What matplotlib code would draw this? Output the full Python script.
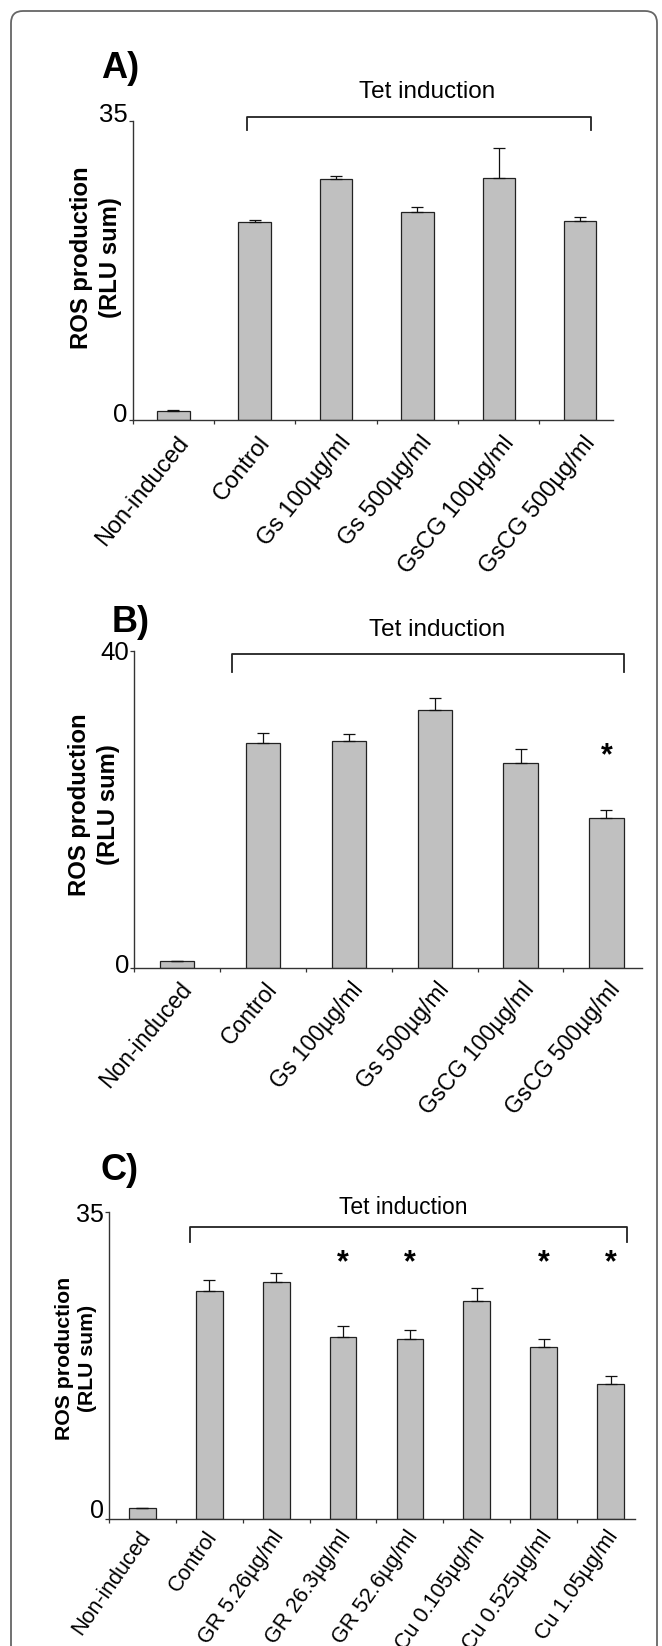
import numpy as np
import matplotlib
matplotlib.use("Agg")
import matplotlib.pyplot as plt
import matplotlib.transforms as mtransforms
from matplotlib.patches import FancyBboxPatch

plt.rcParams['font.family'] = ['Liberation Sans', 'DejaVu Sans']

W, H, DPI = 662, 1646, 100

# ---- data (RLU sum) ----
labels_ab = ["Non-induced", "Control", "Gs 100µg/ml", "Gs 500µg/ml",
             "GsCG 100µg/ml", "GsCG 500µg/ml"]

ros_a = [1.1, 23.15, 28.2, 24.3, 28.3, 23.3]
err_a = [0.05, 0.2, 0.3, 0.55, 3.55, 0.4]

ros_b = [0.9, 28.4, 28.6, 32.6, 25.85, 18.95]
err_b = [0.05, 1.25, 0.9, 1.45, 1.8, 1.05]
stars_b = [5]

labels_c = ["Non-induced", "Control", "GR 5.26µg/ml", "GR 26.3µg/ml",
            "GR 52.6µg/ml", "Cu 0.105µg/ml", "Cu 0.525µg/ml", "Cu 1.05µg/ml"]
ros_c = [1.3, 26.0, 27.0, 20.7, 20.5, 24.9, 19.65, 15.4]
err_c = [0.0, 1.3, 1.1, 1.35, 1.0, 1.45, 0.85, 0.9]
stars_c = [3, 4, 6, 7]


def px_axes(fig, left, top, right, bottom):
    return fig.add_axes([left / W, 1 - bottom / H, (right - left) / W, (bottom - top) / H])


def shift(artist, fig, dx, dy):
    # dx, dy in pixels
    off = mtransforms.ScaledTranslation(dx / DPI, dy / DPI, fig.dpi_scale_trans)
    artist.set_transform(artist.get_transform() + off)


def DrawPanel(fig, ax, labels, vals, errs, ymax, xmax, xfs, xrot, xoff, yfs, yoff, lab_fs,
              bracket, tet_xy, tet_fs, stars=(), star_y=0, lab_xy=(0, 0)):
    x = np.arange(len(vals))
    ax.bar(x, vals, width=0.4, color='#c0c0c0', edgecolor='#222222', linewidth=0.9,
           yerr=[np.zeros(len(errs)), errs],
           error_kw=dict(ecolor='#111111', elinewidth=0.9, capsize=4, capthick=0.9),
           zorder=2)
    ax.set_xlim(-0.5, xmax)
    ax.set_ylim(0, ymax)
    for s in ['top', 'right']:
        ax.spines[s].set_visible(False)
    for s in ['left', 'bottom']:
        ax.spines[s].set_color('#333333')
        ax.spines[s].set_linewidth(1.0)
    ax.set_yticks([0, ymax])
    ax.set_yticklabels(['0', str(ymax)], fontsize=yfs)
    ax.tick_params(axis='y', direction='out', length=3, width=0.9, pad=0.5, color='#333333')
    for t, dy in zip(ax.get_yticklabels(), yoff):
        shift(t, fig, 0, dy)

    ax.set_xticks(x - 0.5)
    ax.set_xticklabels([])
    ax.tick_params(axis='x', which='major', direction='out', length=3, width=0.9, color='#333333')
    ax.set_xticks(x, minor=True)
    ax.set_xticklabels(labels, minor=True, rotation=xrot, ha='right', va='center',
                       rotation_mode='anchor', fontsize=xfs)
    ax.tick_params(axis='x', which='minor', length=0, pad=0)
    for t in ax.get_xticklabels(minor=True):
        shift(t, fig, xoff[0], xoff[1])

    # bracket
    x0, x1, yt, yb = bracket
    ax.plot([x0, x0, x1, x1], [yb, yt, yt, yb], color='#222222', lw=1.3, clip_on=False)
    ax.text(tet_xy[0], tet_xy[1], "Tet induction", ha='center', va='center',
            fontsize=tet_fs, clip_on=False)

    for s in stars:
        ax.text(s, star_y, "*", ha='center', va='baseline', fontsize=22,
                fontweight='bold', clip_on=False)

    fig.text(lab_xy[0] / W, 1 - lab_xy[1] / H, "ROS production\n(RLU sum)",
             rotation=90, ha='center', va='center', fontsize=lab_fs,
             fontweight='bold', linespacing=1.3)


fig = plt.figure(figsize=(W / DPI, H / DPI), dpi=DPI)

# outer rounded frame
frame = FancyBboxPatch((0.11, -0.5), 6.46, 16.85, boxstyle="round,pad=0,rounding_size=0.12",
                       transform=fig.dpi_scale_trans, fill=False, edgecolor='#666666', lw=1.3)
fig.add_artist(frame)

# A
axA = px_axes(fig, 132.7, 120.7, 612.7, 420)
DrawPanel(fig, axA, labels_ab, ros_a, err_a, 35, 5.4, 17, 51, (11, -19), 18.5, (8, 8), 17.2,
          (0.9, 5.13, 35.47, 33.9), (3.12, 38.4), 17.5, lab_xy=(96, 258))
fig.text(101 / W, 1 - 68 / H, "A)", fontsize=26, fontweight='bold', va='center', ha='left')

# B
axB = px_axes(fig, 134.3, 651, 641.6, 968.3)
DrawPanel(fig, axB, labels_ab, ros_b, err_b, 40, 5.41, 16.5, 50, (10, -17), 18.5, (5, 0), 17.2,
          (0.64, 5.21, 39.6, 37.36), (3.03, 42.6), 17.5, stars=stars_b, star_y=25.7,
          lab_xy=(94, 805))
fig.text(112 / W, 1 - 622 / H, "B)", fontsize=26, fontweight='bold', va='center', ha='left')

# C
axC = px_axes(fig, 109, 1212, 635.3, 1519)
DrawPanel(fig, axC, labels_c, ros_c, err_c, 35, 7.37, 15.5, 55, (4, -14), 18, (10, 0), 15.3,
          (0.71, 7.24, 33.33, 31.55), (3.9, 35.46), 16.5, stars=stars_c, star_y=28.3,
          lab_xy=(76, 1358))
fig.text(101 / W, 1 - 1171 / H, "C)", fontsize=26, fontweight='bold', va='center', ha='left')

fig.savefig("out.png", dpi=DPI)
